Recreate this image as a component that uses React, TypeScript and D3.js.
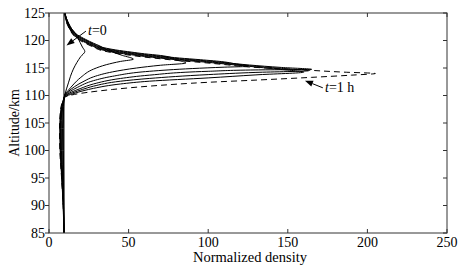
import React from "react";
import * as d3 from "d3";

// [altitude km, normalized density]
type P = [number, number];

const xTicks = [0, 50, 100, 150, 200, 250];
const yTicks = [85, 90, 95, 100, 105, 110, 115, 120, 125];

const curveT0: P[] = [[85, 9.4], [125, 9.4]];

const curveA: P[] = [
  [85, 9.4], [90, 9.3], [95, 9.2], [100, 9.05], [104, 9.0], [107, 9.1], [109, 9.4],
  [110.2, 10], [111.2, 11], [112.3, 12.2], [113.5, 13.5], [114.8, 15.3], [116.0, 17.5], [117.1, 20], [118.0, 22.5],
  [118.8, 21.0], [119.6, 19.6], [120.4, 18.3], [121.2, 16.8], [122.1, 14.3], [123.05, 12.4], [124, 11], [125, 10],
];

const curveB: P[] = [
  [85, 9.4], [90, 9.2], [95, 8.9], [100, 8.6], [104, 8.5], [107, 8.7], [109, 9.3],
  [110.2, 10], [110.9, 12], [111.9, 15], [113.3, 20], [114.8, 28], [115.6, 36], [116.2, 45], [116.6, 53],
  [117.3, 46], [117.9, 40], [118.5, 35], [119.0, 32], [119.5, 28], [120.2, 23], [121, 18], [122, 14.5], [123, 12.5], [124, 11], [125, 10],
];

const curveC: P[] = [
  [85, 9.4], [90, 9.1], [95, 8.6], [100, 8.1], [104, 8.0], [107, 8.3], [109, 9.2],
  [110.2, 10], [110.7, 12], [111.6, 16], [112.6, 22], [113.4, 28], [114.3, 40], [115.0, 55], [115.5, 70], [115.9, 86],
  [116.5, 80], [117.1, 74], [117.28, 70], [117.58, 60], [117.88, 52], [118.28, 42], [118.88, 32], [119.38, 28], [120.08, 23], [120.88, 18], [121.88, 14.5], [122.88, 12.5], [123.88, 11], [125, 10],
];

const curveD: P[] = [
  [85, 9.4], [90, 9.1], [95, 8.4], [100, 7.8], [104, 7.6], [107, 8.0], [109, 9.1],
  [110.1, 10], [110.7, 13], [111.5, 18], [112.7, 28], [113.5, 40], [114.4, 63], [114.9, 90], [115.15, 110], [115.3, 125],
  [115.8, 116], [116.11, 110], [116.51, 95], [116.81, 82], [117.16, 70], [117.46, 60], [117.76, 52], [118.16, 42], [118.76, 32], [119.26, 28], [119.96, 23], [120.76, 18], [121.76, 14.5], [122.76, 12.5], [123.76, 11], [125, 10],
];

const curveE: P[] = [
  [85, 9.4], [90, 9.0], [95, 8.2], [100, 7.4], [104, 7.2], [107, 7.7], [109, 9.0],
  [110.0, 10], [110.6, 14], [111.3, 20], [112.1, 28], [113.1, 45], [113.7, 63], [114.4, 100], [114.65, 130], [114.75, 165],
  [115.1, 146], [115.54, 126], [115.99, 110], [116.39, 95], [116.69, 82], [117.04, 70], [117.34, 60], [117.64, 52], [118.04, 42], [118.64, 32], [119.14, 28], [119.84, 23], [120.64, 18], [121.64, 14.5], [122.64, 12.5], [123.64, 11], [125, 10],
];

const curveF1: P[] = [
  [85, 9.4], [90, 9.0], [95, 8.1], [100, 7.2], [104, 7.0], [107, 7.5], [109, 8.9],
  [109.9, 10], [110.5, 15], [111.1, 21], [111.7, 28], [112.6, 45], [113.1, 63], [113.8, 100], [114.2, 130], [114.5, 163],
  [114.95, 145], [115.42, 126], [115.87, 110], [116.27, 95], [116.57, 82], [116.92, 70], [117.22, 60], [117.52, 52], [117.92, 42], [118.52, 32], [119.02, 28], [119.72, 23], [120.52, 18], [121.52, 14.5], [122.52, 12.5], [123.52, 11], [125, 10],
];

const curveF2: P[] = [
  [85, 9.4], [90, 8.9], [95, 8.0], [100, 7.0], [104, 6.8], [107, 7.3], [109, 8.8],
  [109.8, 10], [110.3, 15], [110.9, 22], [111.3, 28], [112.1, 45], [112.6, 63], [113.2, 100], [113.75, 130], [114.25, 160],
  [114.8, 143], [115.3, 126], [115.75, 110], [116.15, 95], [116.45, 82], [116.8, 70], [117.1, 60], [117.4, 52], [117.8, 42], [118.4, 32], [118.9, 28], [119.6, 23], [120.4, 18], [121.4, 14.5], [122.4, 12.5], [123.4, 11], [125, 10],
];

const curveG: P[] = [
  [85, 9.4], [90, 8.9], [95, 7.9], [100, 6.8], [104, 6.6], [107, 7.1], [109, 8.7],
  [109.7, 10], [110.2, 16], [110.6, 25], [111.1, 40], [111.7, 63], [112.4, 100], [112.8, 130], [113.3, 165], [113.7, 190], [114.0, 205],
  [114.25, 185], [114.65, 160], [115.18, 126], [115.63, 110], [116.03, 95], [116.33, 82], [116.68, 70], [116.98, 60], [117.28, 52], [117.68, 42], [118.28, 32], [118.78, 28], [119.48, 23], [120.28, 18], [121.28, 14.5], [122.28, 12.5], [123.28, 11], [125, 10],
];

const solidCurves = [curveT0, curveA, curveB, curveC, curveD, curveE, curveF1, curveF2];
const dashedCurves = [curveG];

// annotations in data units: arrow tail, arrow head, text anchor (density, altitude)
const annotT0 = { tail: [23.2, 121.7], head: [11, 119.1], text: [24.5, 121.0], label: "=0" };
const annotT1 = { tail: [172, 111.4], head: [160.8, 112.7], text: [173.4, 110.6], label: "=1 h" };

const W = 468, H = 272;
const M = { left: 49, right: 447, top: 13, bottom: 233 };
const FONT = "'Liberation Serif', 'Times New Roman', serif";
const FS = 14;

export default function App() {
  const x = d3.scaleLinear().domain([0, 250]).range([M.left, M.right]);
  const y = d3.scaleLinear().domain([85, 125]).range([M.bottom, M.top]);
  const line = d3
    .line<P>()
    .x((d) => x(d[1]))
    .y((d) => y(d[0]))
    .curve(d3.curveMonotoneY);
  const path = (c: P[]) => line([...c].sort((a, b) => b[0] - a[0])) || "";

  const arrow = (a: { tail: number[]; head: number[]; text: number[]; label: string }) => {
    const x0 = x(a.tail[0]), y0 = y(a.tail[1]);
    const x1 = x(a.head[0]), y1 = y(a.head[1]);
    const dx = x1 - x0, dy = y1 - y0;
    const len = Math.hypot(dx, dy);
    const ux = dx / len, uy = dy / len;
    const hl = 8, hw = 3;
    const bx = x1 - ux * hl, by = y1 - uy * hl;
    const pts = `${x1},${y1} ${bx - uy * hw},${by + ux * hw} ${bx + uy * hw},${by - ux * hw}`;
    return (
      <g>
        <line x1={x0} y1={y0} x2={bx} y2={by} stroke="#000" strokeWidth={1} />
        <polygon points={pts} fill="#000" />
        <text x={x(a.text[0])} y={y(a.text[1])} fontFamily={FONT} fontSize={FS} fill="#000">
          <tspan fontStyle="italic">t</tspan>
          {a.label}
        </text>
      </g>
    );
  };

  return (
    <svg
      width={W}
      height={H}
      style={{ position: "absolute", left: 0, top: 0, background: "#fff" }}
    >
      <rect x={0} y={0} width={W} height={H} fill="#fff" />
      <defs>
        <clipPath id="clip">
          <rect x={M.left} y={M.top} width={M.right - M.left} height={M.bottom - M.top} />
        </clipPath>
      </defs>
      <g clipPath="url(#clip)">
        {solidCurves.map((c, i) => (
          <path key={"s" + i} d={path(c)} fill="none" stroke="#000" strokeWidth={1} />
        ))}
        {dashedCurves.map((c, i) => (
          <path key={"d" + i} d={path(c)} fill="none" stroke="#000" strokeWidth={1} strokeDasharray="6,4" />
        ))}
      </g>
      <rect
        x={M.left}
        y={M.top}
        width={M.right - M.left}
        height={M.bottom - M.top}
        fill="none"
        stroke="#333"
        strokeWidth={1}
      />
      {xTicks.map((t) => (
        <g key={"x" + t}>
          <line x1={x(t)} x2={x(t)} y1={M.bottom} y2={M.bottom - 4} stroke="#333" />
          <line x1={x(t)} x2={x(t)} y1={M.top} y2={M.top + 4} stroke="#333" />
          <text
            x={x(t)}
            y={M.bottom + 14}
            textAnchor="middle"
            fontFamily={FONT}
            fontSize={FS}
            fill="#000"
          >
            {t}
          </text>
        </g>
      ))}
      {yTicks.map((t) => (
        <g key={"y" + t}>
          <line x1={M.left} x2={M.left - 4} y1={y(t)} y2={y(t)} stroke="#333" />
          <line x1={M.right} x2={M.right - 4} y1={y(t)} y2={y(t)} stroke="#333" />
          <text
            x={M.left - 4}
            y={y(t)}
            dy="0.35em"
            textAnchor="end"
            fontFamily={FONT}
            fontSize={FS}
            fill="#000"
          >
            {t}
          </text>
        </g>
      ))}
      <text
        x={(M.left + M.right) / 2 + 2}
        y={262}
        textAnchor="middle"
        fontFamily={FONT}
        fontSize={FS + 0.5}
        fill="#000"
      >
        Normalized density
      </text>
      <text
        transform={`translate(14,${(M.top + M.bottom) / 2}) rotate(-90)`}
        textAnchor="middle"
        dy="0.35em"
        fontFamily={FONT}
        fontSize={FS}
        fill="#000"
      >
        Altitude/km
      </text>
      {arrow(annotT0)}
      {arrow(annotT1)}
    </svg>
  );
}
